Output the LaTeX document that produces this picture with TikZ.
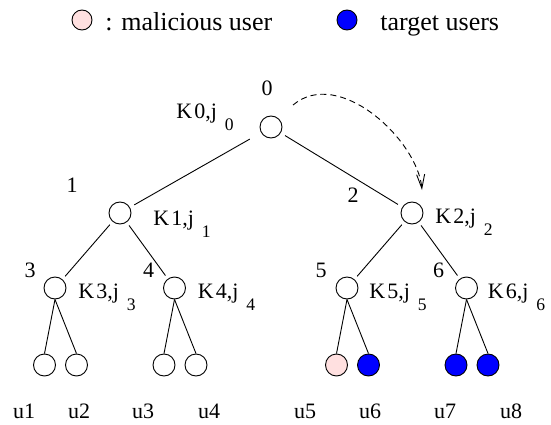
\documentclass[tikz,border=0pt]{standalone}
\usepackage{fontspec}
\setmainfont{Liberation Serif}
\usetikzlibrary{arrows.meta,trees}
\definecolor{malpink}{RGB}{255,224,224}
\newcommand{\klab}[1]{K\kern2pt #1,j\kern8pt\raisebox{-12pt}{\fontsize{17.6}{20}\selectfont #1}}
\begin{document}
\begin{tikzpicture}[x=1pt,y=1pt,line width=0.9pt,
			every node/.style={font=\fontsize{22}{26}\selectfont,inner sep=0pt},
			knode/.style={circle,draw,minimum size=22pt,fill=white},
			legtxt/.style={font=\fontsize{26}{30}\selectfont},
			level 1/.style={grow via three points={one child at (0,-86) and two children at (-151,-86) and (141,-86)}},
			level 2/.style={grow via three points={one child at (0,-75) and two children at (-65,-75) and (54.5,-75)},
				edge from parent/.style={draw,shorten <=4pt,shorten >=4pt}},
			level 3/.style={grow via three points={one child at (0,-77) and two children at (-10.5,-77) and (21.5,-77)},
				edge from parent/.style={draw},
				edge from parent path={(\tikzparentnode.south) -- (\tikzchildnode.north)}}]
			\useasboundingbox (0,0) rectangle (551,-425);
			% legend
			\node[knode,fill=malpink,minimum size=20pt] (mal) at (82,-20) {};
			\node[legtxt,anchor=base west] (maltxt) at (105,-31) {: malicious user};
			\node[knode,fill=blue,minimum size=20pt] (tgt) at (347,-20) {};
			\node[legtxt,anchor=base west] (tgttxt) at (380,-31) {target users};
			% key tree
			\node[knode] (n0) at (271,-127) {}
			child{node[knode] (n1) {}
				child{node[knode] (n3) {}
					child{node[knode] (l1) {}}
					child{node[knode] (l2) {}}
				}
				child{node[knode] (n4) {}
					child{node[knode] (l3) {}}
					child{node[knode] (l4) {}}
				}
				edge from parent[shorten <=13pt,shorten >=5pt]
			}
			child{node[knode] (n2) {}
				child{node[knode] (n5) {}
					child{node[knode,fill=malpink] (l5) {}}
					child{node[knode,fill=blue] (l6) {}}
				}
				child{node[knode] (n6) {}
					child{node[knode,fill=blue] (l7) {}}
					child{node[knode,fill=blue] (l8) {}}
				}
				edge from parent[shorten <=5pt,shorten >=5pt]
			};
			% node numbers
			\node (num0) at ([shift={(-4,39)}]n0.center) {0};
			\node (num1) at ([shift={(-48,28)}]n1.center) {1};
			\node (num2) at ([shift={(-59,18)}]n2.center) {2};
			\node (num3) at ([shift={(-25,18)}]n3.center) {3};
			\node (num4) at ([shift={(-26,18)}]n4.center) {4};
			\node (num5) at ([shift={(-26,18)}]n5.center) {5};
			\node (num6) at ([shift={(-28,18)}]n6.center) {6};
			% keys
			\node[anchor=base west] (key0) at ([shift={(-95,9)}]n0.center) {\klab{0}};
			\node[anchor=base west] (key1) at ([shift={(33,-12)}]n1.center) {\klab{1}};
			\node[anchor=base west] (key2) at ([shift={(23,-10)}]n2.center) {\klab{2}};
			\node[anchor=base west] (key3) at ([shift={(23,-10)}]n3.center) {\klab{3}};
			\node[anchor=base west] (key4) at ([shift={(23,-10)}]n4.center) {\klab{4}};
			\node[anchor=base west] (key5) at ([shift={(22,-10)}]n5.center) {\klab{5}};
			\node[anchor=base west] (key6) at ([shift={(21,-10)}]n6.center) {\klab{6}};
			% users
			\foreach \x/\u in {24/u1,79/u2,143/u3,209/u4,305/u5,370/u6,445/u7,511/u8}
				\node[anchor=base] (\u) at (\x,-418) {\u};
			% rekey move
			\coordinate (mvS) at ([shift={(22,22)}]n0.center);
			\coordinate (mvE) at ([shift={(10,23)}]n2.center);
			\draw[dash pattern=on 6pt off 4pt,-{Straight Barb[length=14pt,width=8pt]}]
				(mvS) .. controls +(40:60pt) and +(95:50pt) .. (mvE);
		\end{tikzpicture}
\end{document}
